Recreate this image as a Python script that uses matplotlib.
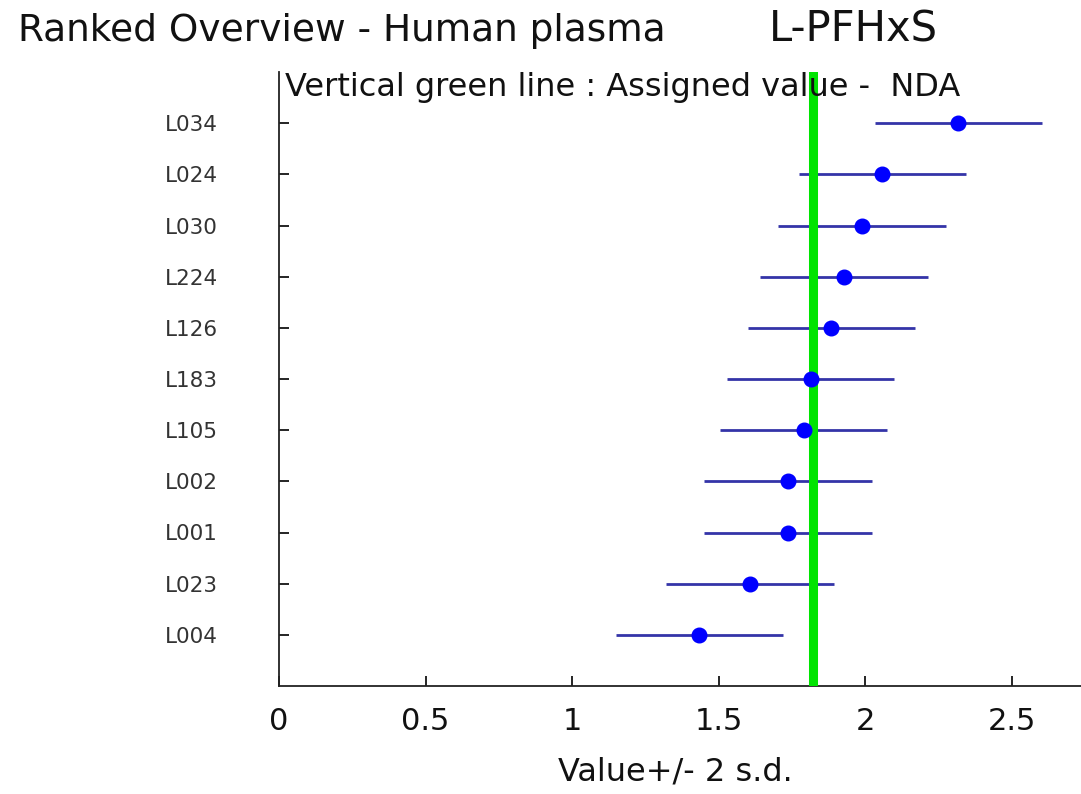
import numpy as np
import matplotlib
matplotlib.use("Agg")
import matplotlib.pyplot as plt

plt.rcParams['font.family'] = ['DejaVu Sans']

# data (bottom to top)
labs = ["L004", "L023", "L001", "L002", "L105", "L183",
        "L126", "L224", "L030", "L024", "L034"]
vals = [1.433, 1.606, 1.736, 1.736, 1.790, 1.813,
        1.883, 1.927, 1.988, 2.057, 2.316]
two_sd = [0.285, 0.285, 0.285, 0.285, 0.285, 0.285,
          0.285, 0.285, 0.285, 0.285, 0.285]
assigned = 1.821
xticks = [0, 0.5, 1, 1.5, 2, 2.5]
xtick_labels = ["0", "0.5", "1", "1.5", "2", "2.5"]

W, H = 1081, 794
fig = plt.figure(figsize=(W / 100, H / 100), dpi=100)
ax = fig.add_axes([279 / W, 1 - 686 / H, 1 - 279 / W, (686 - 72) / H])

ypos = np.arange(1, len(labs) + 1)
ax.errorbar(vals, ypos, xerr=two_sd, fmt='none', ecolor='#3434a8',
            elinewidth=2, capsize=0, zorder=2)
ax.plot(vals, ypos, 'o', color='#0000ff', markersize=10.5, zorder=4)
ax.axvline(assigned, color='#00e400', linewidth=6.5, zorder=3)

ax.set_xlim(0, 2.735)
ax.set_ylim(0, 12)
ax.set_xticks(xticks)
ax.set_xticklabels(xtick_labels)
ax.set_yticks(ypos)
ax.set_yticklabels(labs)

ax.spines['top'].set_visible(False)
ax.spines['right'].set_visible(False)
for s in ['left', 'bottom']:
    ax.spines[s].set_linewidth(1.3)
    ax.spines[s].set_color('#222222')

ax.tick_params(axis='x', direction='in', length=7, width=1.2, pad=15,
               labelsize=22, labelcolor='#111111')
ax.tick_params(axis='y', direction='in', length=7, width=1.2, pad=44,
               labelsize=15.5, labelcolor='#333333')

# axis label and annotation placed by pixel baseline
fig.text(675 / W, 1 - 781 / H, "Value+/- 2 s.d.", fontsize=23,
         va='baseline', ha='center', color='#111111')
fig.text(285 / W, 1 - 96 / H, "Vertical green line : Assigned value -  NDA",
         fontsize=23, va='baseline', ha='left', color='#111111')

fig.text(18 / W, 1 - 41 / H, "Ranked Overview - Human plasma",
         fontsize=27, va='baseline', ha='left', color='#111111')
fig.text(769 / W, 1 - 42 / H, "L-PFHxS",
         fontsize=30, va='baseline', ha='left', color='#111111')

plt.savefig("out.png", dpi=100)
